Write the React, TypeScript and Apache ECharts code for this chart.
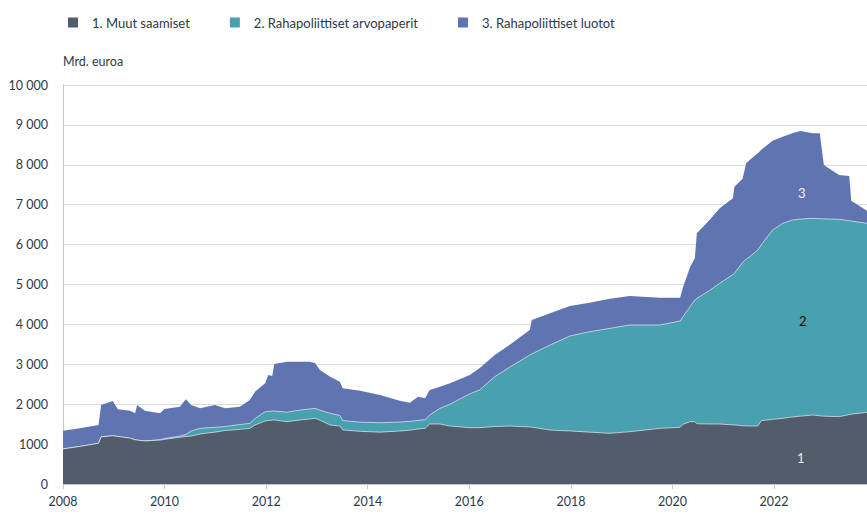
import React, { useEffect, useRef } from "react";
import * as echarts from "echarts";

const legendNames = ["1. Muut saamiset", "2. Rahapoliittiset arvopaperit", "3. Rahapoliittiset luotot"];
const areaLabels = ["1", "2", "3"];
const yTicks = [0, 1000, 2000, 3000, 4000, 5000, 6000, 7000, 8000, 9000, 10000];
const xTickYears = [2008, 2010, 2012, 2014, 2016, 2018, 2020, 2022];

// decimal years
const dates = [
  2008.0, 2008.33, 2008.7, 2008.75, 2008.98, 2009.08, 2009.32, 2009.42, 2009.46, 2009.61,
  2009.91, 2010.0, 2010.3, 2010.42, 2010.52, 2010.7, 2010.99, 2011.19, 2011.48, 2011.68,
  2011.78, 2011.98, 2012.04, 2012.12, 2012.16, 2012.41, 2012.67, 2012.86, 2012.96, 2013.06,
  2013.26, 2013.45, 2013.51, 2013.85, 2014.24, 2014.63, 2014.83, 2014.99, 2015.13, 2015.22,
  2015.42, 2015.62, 2016.01, 2016.2, 2016.5, 2016.79, 2017.19, 2017.23, 2017.59, 2017.98,
  2018.37, 2018.77, 2019.16, 2019.75, 2020.15, 2020.21, 2020.35, 2020.44, 2020.48, 2020.73,
  2020.93, 2021.19, 2021.22, 2021.38, 2021.45, 2021.52, 2021.68, 2021.75, 2021.97, 2022.17,
  2022.36, 2022.52, 2022.76, 2022.9, 2022.98, 2023.28, 2023.48, 2023.52, 2023.83,
];

// 1. Muut saamiset
const muutSaamiset = [
  880, 940, 1020, 1180, 1210, 1190, 1150, 1110, 1100, 1080,
  1100, 1120, 1170, 1190, 1200, 1253, 1300, 1340, 1370, 1395,
  1478, 1579, 1590, 1600, 1604, 1562, 1604, 1630, 1646, 1600,
  1478, 1453, 1353, 1320, 1300, 1328, 1350, 1380, 1395, 1503,
  1503, 1453, 1411, 1411, 1440, 1453, 1430, 1425, 1353, 1330,
  1300, 1270, 1311, 1395, 1420, 1500, 1562, 1562, 1510, 1503,
  1503, 1480, 1480, 1460, 1455, 1453, 1453, 1587, 1620, 1646,
  1680, 1700, 1729, 1710, 1700, 1687, 1740, 1750, 1796,
];

// 2. Rahapoliittiset arvopaperit
const arvopaperit = [
  0, 0, 0, 0, 0, 0, 0, 0, 0, 0,
  10, 20, 30, 50, 130, 142, 120, 100, 120, 125,
  162, 233, 230, 225, 225, 238, 250, 250, 250, 250,
  293, 267, 237, 230, 237, 225, 220, 215, 215, 226,
  393, 547, 849, 945, 1249, 1471, 1803, 1835, 2130, 2379,
  2517, 2631, 2674, 2590, 2665, 2700, 2888, 3049, 3140, 3347,
  3526, 3770, 3800, 4090, 4180, 4244, 4411, 4413, 4745, 4887,
  4936, 4940, 4929, 4940, 4945, 4946, 4860, 4840, 4737,
];

// 3. Rahapoliittiset luotot
const luotot = [
  456, 455, 458, 800, 870, 681, 688, 661, 880, 758,
  661, 740, 738, 882, 650, 501, 560, 456, 448, 585,
  673, 711, 911, 881, 1178, 1265, 1211, 1185, 1134, 1007,
  918, 844, 807, 789, 693, 535, 468, 594, 537, 627,
  544, 523, 471, 543, 544, 559, 626, 850, 794, 752,
  723, 739, 726, 684, 584, 745, 996, 1045, 1632, 1766,
  1880, 1910, 2170, 2100, 2405, 2423, 2423, 2380, 2238, 2167,
  2172, 2206, 2130, 2138, 1349, 1110, 1118, 510, 317,
];

const colors = ["#525c6b", "#49a0ae", "#5f74b1"];
const FONT = "Lato, 'Noto Sans', sans-serif";

function fmtY(v: number): string {
  if (v >= 2000) {
    const s = String(v);
    return s.slice(0, s.length - 3) + " " + s.slice(-3);
  }
  return String(v);
}

export default function App() {
  const ref = useRef<HTMLDivElement>(null);
  useEffect(() => {
    if (!ref.current) return;
    const chart = echarts.init(ref.current, undefined, { renderer: "svg" });
    const seriesData = [muutSaamiset, arvopaperit, luotot];
    // cumulative tops (stacked manually, since x is a value axis)
    const cumulative: number[][] = [];
    seriesData.forEach((arr, i) => {
      cumulative.push(arr.map((v, j) => v + (i > 0 ? cumulative[i - 1][j] : 0)));
    });
    chart.setOption({
      animation: false,
      textStyle: { fontFamily: FONT },
      legend: {
        left: 63,
        top: 11,
        itemWidth: 10,
        itemHeight: 10,
        itemGap: 40,
        icon: "rect",
        textStyle: { fontFamily: FONT, fontSize: 13, color: "#2e3848", padding: [0, 0, 0, 9] },
        data: legendNames,
      },
      grid: { left: 63, right: 0, top: 85, bottom: 31, containLabel: false },
      xAxis: {
        type: "value",
        min: 2008,
        max: 2023.83,
        interval: 2,
        axisLine: { show: true, lineStyle: { color: "#c8c8c8", width: 1 } },
        axisTick: { show: true, length: 5, lineStyle: { color: "#c8c8c8" } },
        splitLine: { show: false },
        axisLabel: {
          color: "#2e3848",
          fontSize: 12.5,
          fontFamily: FONT,
          margin: 11,
          showMaxLabel: false,
          formatter: (v: number) => (xTickYears.indexOf(Math.round(v * 100) / 100) >= 0 ? String(v) : ""),
        },
      },
      yAxis: {
        type: "value",
        min: yTicks[0],
        max: yTicks[yTicks.length - 1],
        interval: 1000,
        name: "Mrd. euroa",
        nameLocation: "end",
        nameGap: 17,
        nameTextStyle: { align: "left", color: "#2e3848", fontSize: 12.5, fontFamily: FONT },
        axisLine: { show: true, lineStyle: { color: "#c8c8c8", width: 1 } },
        axisTick: { show: false },
        splitLine: { show: true, lineStyle: { color: "#dcdcdc", width: 1 } },
        axisLabel: { color: "#2e3848", fontSize: 12.5, fontFamily: FONT, margin: 15, formatter: fmtY },
      },
      series: legendNames.map((name, i) => ({
        name,
        type: "line",
        symbol: "none",
        color: colors[i],
        lineStyle: { width: i < 2 ? 0.8 : 0, color: "rgba(255,255,255,0.75)" },
        areaStyle: { color: colors[i], opacity: 1, origin: "start" },
        data: dates.map((d, j) => [d, cumulative[i][j]]),
        z: 5 - i,
      })),
      graphic: [
        { type: "text", left: 797, top: 451, z: 100, style: { text: areaLabels[0], fill: "#e8e8ec", font: `13px ${FONT}` } },
        { type: "text", left: 799, top: 314, z: 100, style: { text: areaLabels[1], fill: "#111111", font: `13px ${FONT}` } },
        { type: "text", left: 798, top: 186, z: 100, style: { text: areaLabels[2], fill: "#f2f2f6", font: `13px ${FONT}` } },
      ],
    });
    return () => chart.dispose();
  }, []);
  return <div ref={ref} style={{ width: 867, height: 515, position: "absolute", left: 0, top: 0 }} />;
}
